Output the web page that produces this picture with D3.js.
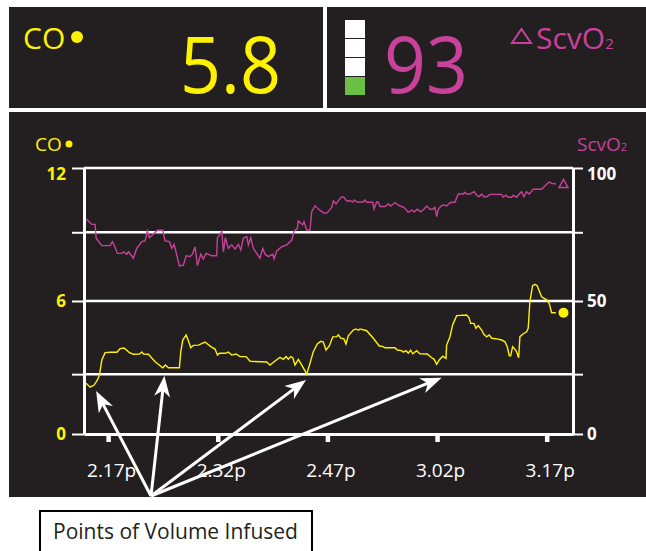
<!DOCTYPE html>
<html>
<head>
<meta charset="utf-8">
<script src="https://cdn.jsdelivr.net/npm/d3@7"></script>
<style>
  html, body { margin: 0; padding: 0; background: #fff; }
  svg { display: block; font-family: "Open Sans", sans-serif; }
</style>
</head>
<body>
<svg id="chart" width="646" height="551"></svg>
<script>
// times are minutes after 2:00p
const scvTimes = [13.99,14.77,15.22,15.36,16.14,17.27,17.59,17.86,18.27,18.87,
  19.09,19.56,19.78,20.46,20.92,21.61,22.06,22.37,22.65,23.19,
  23.74,24.48,24.79,25.38,25.71,26.02,26.30,26.75,27.30,27.67,
  28.21,28.53,28.90,29.21,29.68,30.03,30.40,31.18,31.86,31.95,
  32.55,32.77,33.04,33.45,33.91,34.37,34.82,35.15,35.50,35.97,
  36.18,36.51,36.87,37.33,37.78,38.15,38.47,38.92,39.52,39.70,
  40.07,40.75,41.44,42.12,42.43,42.89,43.02,43.62,43.80,44.17,
  44.62,44.85,45.31,45.76,46.54,46.99,47.59,47.81,48.18,48.63,
  48.96,49.27,49.64,50.09,50.46,50.68,51.01,51.91,52.14,52.37,
  53.20,53.37,53.74,53.96,54.19,54.88,55.33,55.66,56.24,56.93,
  57.48,58.06,58.53,58.88,59.29,59.76,60.21,60.58,61.03,61.40,
  61.71,61.95,62.17,62.49,62.85,63.31,63.67,64.00,64.45,64.90,
  65.58,65.82,66.05,66.50,67.05,67.42,67.77,68.10,68.41,68.78,
  69.24,70.84,71.05,71.42,71.74,72.20,72.42,72.89,73.24,73.57,
  73.88,74.25,74.61,75.16,76.30,77.34,77.67,78.26];
const scvValues = [80.8,78.8,78.8,73.6,70.8,70.8,72.3,70.8,67.9,67.9,
  68.5,67.6,68.5,66.1,69.8,72.3,72.6,76.3,73.8,75.1,
  76.6,76.6,72.6,72.3,69.8,71.3,68.3,63.2,63.5,67.0,
  66.7,67.6,70.4,63.3,67.6,65.8,67.9,67.0,67.0,73.8,
  76.1,68.5,73.8,69.8,71.1,69.5,71.3,69.2,73.6,74.2,
  71.1,73.8,69.8,67.9,66.1,69.8,67.6,66.7,67.6,65.8,
  68.8,70.4,71.1,72.9,76.1,77.3,80.1,78.6,79.8,76.7,
  76.7,83.6,85.8,84.6,83.0,83.2,85.2,87.7,86.5,88.2,
  89.2,89.0,87.6,87.7,87.2,88.0,87.2,87.2,88.0,87.1,
  87.1,84.5,87.2,87.2,85.5,85.5,86.5,85.7,87.0,85.7,
  85.2,83.3,84.2,83.5,84.5,83.5,84.5,85.7,84.5,84.5,
  85.2,81.7,84.5,85.5,86.2,85.7,86.7,87.1,87.1,90.2,
  90.2,90.9,90.2,90.2,91.1,89.8,89.2,90.2,89.2,89.2,
  90.1,90.1,89.0,89.8,89.0,89.0,89.8,89.0,90.2,91.1,
  89.2,91.1,90.2,92.0,92.0,94.8,94.2,94.0];

const coTimes = [13.99,14.54,15.09,15.54,15.81,16.14,16.59,17.27,18.19,18.64,
  19.19,19.91,20.46,21.28,21.61,21.83,22.51,23.43,24.48,24.84,
  25.25,26.75,26.94,27.21,27.67,27.98,28.31,28.66,29.35,30.26,
  31.04,31.63,31.95,32.22,33.00,33.45,33.91,34.50,35.05,35.87,
  36.42,38.70,39.15,39.84,40.52,40.97,41.34,41.65,41.98,42.26,
  42.57,43.02,43.49,44.17,44.62,45.07,45.62,46.08,46.44,46.81,
  47.26,47.73,48.27,48.49,48.82,49.27,49.54,49.86,50.54,50.91,
  51.23,51.46,52.14,52.37,53.28,54.10,54.64,54.88,56.24,56.56,
  57.16,57.38,57.75,58.06,58.39,58.67,59.21,59.66,60.66,61.26,
  61.58,61.95,62.30,62.77,63.22,63.31,63.77,64.13,64.68,66.05,
  66.36,66.60,67.05,67.32,67.64,68.10,68.41,68.78,69.14,69.47,
  70.15,70.84,71.29,71.60,71.88,72.07,72.34,72.65,72.89,73.16,
  73.34,73.71,74.25,74.47,74.70,75.07,75.39,75.70,76.30,76.99,
  77.34,77.67,78.26];
const coValues = [2.29,2.11,2.21,2.44,2.66,3.34,3.67,3.69,3.69,3.85,
  3.88,3.67,3.60,3.61,3.70,3.61,3.60,3.26,2.99,3.11,
  2.99,2.99,3.71,4.24,4.47,4.21,3.89,4.00,4.01,4.15,
  3.94,3.83,3.56,3.64,3.64,3.70,3.56,3.61,3.49,3.49,
  3.28,3.25,3.11,3.29,3.46,3.37,3.49,3.37,3.49,3.44,
  3.11,3.37,3.11,2.71,3.19,3.71,4.06,4.18,4.15,3.79,
  3.97,4.38,4.39,4.47,4.32,4.29,4.06,4.43,4.69,4.74,
  4.68,4.74,4.68,4.66,4.32,3.97,3.94,3.89,3.89,3.79,
  3.76,3.69,3.76,3.65,3.78,3.62,3.76,3.62,3.61,3.44,
  3.38,3.14,3.34,3.51,3.41,4.01,4.39,4.92,5.34,5.37,
  5.25,4.99,4.99,4.77,4.89,4.69,4.50,4.38,4.47,4.32,
  4.29,4.24,4.16,3.94,3.53,3.53,3.94,3.83,3.71,3.44,
  4.39,4.50,4.61,4.77,5.97,6.69,6.75,6.69,6.19,6.05,
  5.90,5.47,5.47];

// current marker (time, CO, ScvO2) and readouts
const markerTime = 79.3, markerCO = 5.47, markerScv = 94.2;
const coReadout = '5.8', scvReadout = '93';
const sqiSegments = 4, sqiLevel = 1;

// axes
const xDomain = [13.7, 80.6];
const xTickMinutes = [17, 32, 47, 62, 77];
const xTickLabels = ['2.17p', '2.32p', '2.47p', '3.02p', '3.17p'];
const coTicks = [0, 6, 12];
const scvTicks = [0, 50, 100];
const coRefLines = [2.7, 9.1];

// points of volume infused: arrow tips as [minute, CO]
const infusionTimes = [15.36, 24.70, 44.07, 62.63];
const infusionTipCO = [1.94, 2.63, 2.44, 2.54];

const DARK = '#231f20', YELLOW = '#fff200', PINK = '#c8419b', GREEN = '#6cbf45';
const plot = { left: 84, right: 573, top: 168, bottom: 434 };

const svg = d3.select('#chart');

// background panels
svg.append('rect').attr('x', 9).attr('y', 7).attr('width', 314).attr('height', 101).attr('fill', DARK);
svg.append('rect').attr('x', 327).attr('y', 7).attr('width', 319).attr('height', 101).attr('fill', DARK);
svg.append('rect').attr('x', 9).attr('y', 112).attr('width', 637).attr('height', 385).attr('fill', DARK);

// top readouts
svg.append('text').attr('x', 23).attr('y', 49).attr('font-size', 30).attr('fill', YELLOW).text('CO');
svg.append('circle').attr('cx', 77).attr('cy', 37).attr('r', 6).attr('fill', YELLOW);
svg.append('text').attr('x', 180).attr('y', 93).attr('font-size', 78).attr('fill', YELLOW)
  .attr('textLength', 101).attr('lengthAdjust', 'spacingAndGlyphs').text(coReadout);

svg.selectAll('.sqi').data(d3.range(sqiSegments)).join('rect')
  .attr('class', 'sqi')
  .attr('x', 345).attr('width', 20)
  .attr('y', i => 20 + i * 19).attr('height', 18)
  .attr('fill', i => i >= sqiSegments - sqiLevel ? GREEN : '#fff');

svg.append('text').attr('x', 384).attr('y', 93).attr('font-size', 78).attr('fill', PINK)
  .attr('textLength', 84).attr('lengthAdjust', 'spacingAndGlyphs').text(scvReadout);
svg.append('path').attr('d', 'M512,43L531,43L521.5,29Z')
  .attr('fill', 'none').attr('stroke', PINK).attr('stroke-width', 2);
const scvTitle = svg.append('text').attr('x', 536).attr('y', 49).attr('font-size', 30).attr('fill', PINK);
scvTitle.append('tspan').text('ScvO');
scvTitle.append('tspan').attr('font-size', 15).text('2');

// chart labels
svg.append('text').attr('x', 35).attr('y', 151).attr('font-size', 19).attr('fill', YELLOW).text('CO');
svg.append('circle').attr('cx', 69).attr('cy', 144).attr('r', 3.5).attr('fill', YELLOW);
const scvLabel = svg.append('text').attr('x', 577).attr('y', 151).attr('font-size', 19).attr('fill', PINK);
scvLabel.append('tspan').text('ScvO');
scvLabel.append('tspan').attr('font-size', 11).text('2');

// scales
const x = d3.scaleLinear().domain(xDomain).range([plot.left, plot.right]);
const yCO = d3.scaleLinear().domain([0, 12]).range([plot.bottom, plot.top]);
const yScv = d3.scaleLinear().domain([0, 100]).range([plot.bottom, plot.top]);

// grid lines
svg.selectAll('.grid').data(coRefLines.concat([6, 12])).join('line')
  .attr('class', 'grid')
  .attr('x1', plot.left).attr('x2', plot.right)
  .attr('y1', d => yCO(d)).attr('y2', d => yCO(d))
  .attr('stroke', '#fff').attr('stroke-width', 2.5);

function styleAxis(g, color) {
  g.select('.domain').attr('stroke', '#fff').attr('stroke-width', 3);
  g.selectAll('.tick line').attr('stroke', '#fff').attr('stroke-width', 2);
  g.selectAll('.tick text').attr('fill', color).attr('font-size', 17).attr('font-weight', 700)
    .attr('font-family', '"Open Sans", sans-serif');
}

// left axis (CO)
const leftAxis = svg.append('g').attr('transform', `translate(${plot.left},0)`)
  .call(d3.axisLeft(yCO).tickValues(coTicks.concat(coRefLines))
    .tickSizeInner(12).tickSizeOuter(0).tickPadding(6)
    .tickFormat(d => coTicks.includes(d) ? d : ''));
styleAxis(leftAxis, YELLOW);
leftAxis.selectAll('.tick text').attr('dy', d => d === 12 ? '0.7em' : '0.34em');

// right axis (ScvO2)
const scvRefs = coRefLines.map(v => yScv.invert(yCO(v)));
const rightAxis = svg.append('g').attr('transform', `translate(${plot.right},0)`)
  .call(d3.axisRight(yScv).tickValues(scvTicks.concat(scvRefs))
    .tickSizeInner(10).tickSizeOuter(0).tickPadding(4)
    .tickFormat(d => scvTicks.includes(d) ? d : ''));
styleAxis(rightAxis, '#fff');
rightAxis.selectAll('.tick text').attr('dy', d => d === 100 ? '0.7em' : '0.34em');

// bottom axis (time)
const bottomAxis = svg.append('g').attr('transform', `translate(0,${plot.bottom})`)
  .call(d3.axisBottom(x).tickValues(xTickMinutes)
    .tickSizeInner(8).tickSizeOuter(0).tickPadding(22)
    .tickFormat((d, i) => xTickLabels[i]));
bottomAxis.select('.domain').attr('stroke', '#fff').attr('stroke-width', 3);
bottomAxis.selectAll('.tick line').attr('stroke', '#fff').attr('stroke-width', 4.5);
bottomAxis.selectAll('.tick text').attr('fill', '#fff').attr('font-size', 19).attr('dx', 3)
  .attr('font-family', '"Open Sans", sans-serif');

// series
const scvData = scvTimes.map((t, i) => ({ t, v: scvValues[i] }));
const coData = coTimes.map((t, i) => ({ t, v: coValues[i] }));

svg.append('path').datum(scvData)
  .attr('fill', 'none').attr('stroke', PINK).attr('stroke-width', 1.4)
  .attr('d', d3.line().x(d => x(d.t)).y(d => yScv(d.v)));
svg.append('path').datum(coData)
  .attr('fill', 'none').attr('stroke', YELLOW).attr('stroke-width', 1.4)
  .attr('d', d3.line().x(d => x(d.t)).y(d => yCO(d.v)));

// current value markers
svg.append('circle').attr('cx', x(markerTime)).attr('cy', yCO(markerCO)).attr('r', 5).attr('fill', YELLOW);
const mx = x(markerTime), my = yScv(markerScv);
svg.append('path').attr('d', `M${mx - 4.5},${my + 4}L${mx + 4.5},${my + 4}L${mx},${my - 4}Z`)
  .attr('fill', 'none').attr('stroke', PINK).attr('stroke-width', 1.5);

// callout arrows
const origin = [151, 496];
infusionTimes.forEach((t, i) => {
  const tip = [x(t), yCO(infusionTipCO[i])];
  const dx = tip[0] - origin[0], dy = tip[1] - origin[1];
  const len = Math.hypot(dx, dy);
  const ux = dx / len, uy = dy / len, nx = -uy, ny = ux;
  svg.append('line')
    .attr('x1', origin[0]).attr('y1', origin[1])
    .attr('x2', tip[0] - ux * 12).attr('y2', tip[1] - uy * 12)
    .attr('stroke', '#fff').attr('stroke-width', 3);
  const pts = [
    [tip[0], tip[1]],
    [tip[0] - ux * 21 + nx * 8, tip[1] - uy * 21 + ny * 8],
    [tip[0] - ux * 15, tip[1] - uy * 15],
    [tip[0] - ux * 21 - nx * 8, tip[1] - uy * 21 - ny * 8]
  ];
  svg.append('path').attr('d', 'M' + pts.map(p => p.join(',')).join('L') + 'Z').attr('fill', '#fff');
});

// caption box
svg.append('rect').attr('x', 40).attr('y', 511).attr('width', 272).attr('height', 50)
  .attr('fill', '#fff').attr('stroke', '#000').attr('stroke-width', 2);
svg.append('text').attr('x', 53).attr('y', 539).attr('font-size', 21).attr('fill', DARK)
  .text('Points of Volume Infused');
</script>
</body>
</html>
